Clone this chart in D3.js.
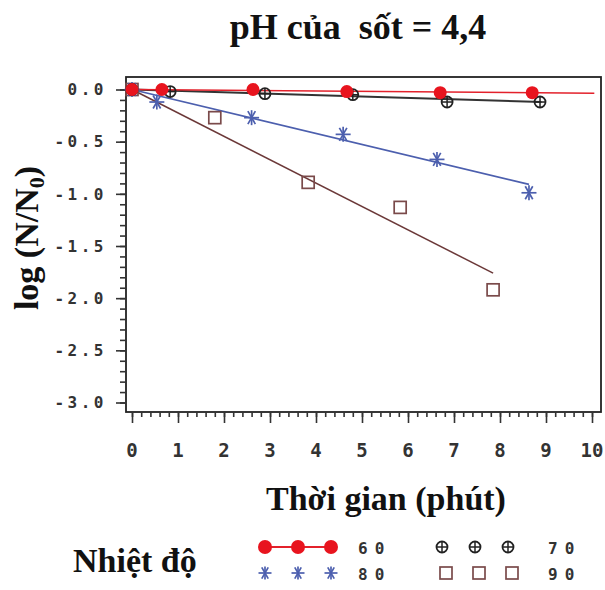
<!DOCTYPE html>
<html>
<head>
<meta charset="utf-8">
<script src="https://cdn.jsdelivr.net/npm/d3@7"></script>
<style>
  body { margin: 0; background: #fff; }
  .tick-lbl { font-family: "DejaVu Sans Mono", monospace; font-weight: bold; fill: #333; }
  .ttl { font-family: "Liberation Serif", "DejaVu Serif", serif; font-weight: bold; fill: #111; }
</style>
</head>
<body>
<div id="chart"></div>
<script>
// values
const temps = ['60', '70', '80', '90'];
const times60 = [0, 0.65, 2.63, 4.67, 6.7, 8.7];
const logs60  = [0, 0.0, 0.0, -0.02, -0.03, -0.03];
const times70 = [0, 0.83, 2.89, 4.8, 6.85, 8.87];
const logs70  = [0, -0.02, -0.04, -0.05, -0.12, -0.12];
const times80 = [0, 0.54, 2.6, 4.59, 6.63, 8.63];
const logs80  = [0, -0.12, -0.27, -0.43, -0.67, -0.99];
const times90 = [0, 1.8, 3.83, 5.83, 7.85];
const logs90  = [0, -0.27, -0.89, -1.13, -1.92];
// fitted lines, start and end as drawn
const fitX60 = [0, 10.05], fitY60 = [0, -0.035];
const fitX70 = [0, 8.9],  fitY70 = [0, -0.12];
const fitX80 = [0, 8.63], fitY80 = [0, -0.91];
const fitX90 = [0, 7.85], fitY90 = [0, -1.76];
const xTicks = [0, 1, 2, 3, 4, 5, 6, 7, 8, 9, 10];
const yTicks = [0, -0.5, -1, -1.5, -2, -2.5, -3];

const width = 605, height = 590;
const frameL = 126, frameR = 601, frameT = 77, frameB = 412;

const svg = d3.select('#chart').append('svg')
  .attr('width', width)
  .attr('height', height);

const x = d3.scaleLinear().domain([0, 10]).range([132, 592]);
const y = d3.scaleLinear().domain([0, -3]).range([89.5, 402.5]);

// frame
svg.append('rect')
  .attr('x', frameL).attr('y', frameT)
  .attr('width', frameR - frameL).attr('height', frameB - frameT)
  .attr('fill', 'none').attr('stroke', '#222').attr('stroke-width', 1.8);

function styleTicks(g) {
  g.select('.domain').remove();
  g.selectAll('line').attr('stroke', '#333').attr('stroke-width', 1.6);
}

// x axis ticks
const xMinor = d3.range(0, 50.5, 1).map(d => d / 5);
svg.append('g')
  .attr('transform', `translate(0,${frameB})`)
  .call(d3.axisBottom(x).tickValues(xMinor).tickSize(5).tickFormat(''))
  .call(styleTicks);
svg.append('g')
  .attr('transform', `translate(0,${frameB})`)
  .call(d3.axisBottom(x).tickValues(xTicks).tickSize(11).tickFormat(''))
  .call(styleTicks);
svg.append('g').selectAll('text')
  .data(xTicks)
  .enter()
  .append('text')
  .attr('class', 'tick-lbl')
  .attr('x', d => x(d))
  .attr('y', 457)
  .attr('text-anchor', 'middle')
  .attr('font-size', 19)
  .text(d => d);

// y axis ticks
const yMinor = d3.range(0, 31, 1).map(d => -d / 10);
svg.append('g')
  .attr('transform', `translate(${frameL},0)`)
  .call(d3.axisLeft(y).tickValues(yMinor).tickSize(6).tickFormat(''))
  .call(styleTicks);
svg.append('g')
  .attr('transform', `translate(${frameL},0)`)
  .call(d3.axisLeft(y).tickValues(yTicks).tickSize(10).tickFormat(''))
  .call(styleTicks);
svg.append('g').selectAll('text')
  .data(yTicks)
  .enter()
  .append('text')
  .attr('class', 'tick-lbl')
  .attr('x', 107)
  .attr('y', d => y(d))
  .attr('dy', '0.36em')
  .attr('text-anchor', 'end')
  .attr('font-size', 16)
  .attr('letter-spacing', 3.5)
  .text(d => d3.format('.1f')(d).replace('−', '-'));

// fitted lines
const line = d3.line().x(d => x(d[0])).y(d => y(d[1]));
const fits = [
  {xs: fitX70, ys: fitY70, c: '#333', w: 2},
  {xs: fitX60, ys: fitY60, c: '#e3212b', w: 1.5},
  {xs: fitX80, ys: fitY80, c: '#4c5fae', w: 1.7},
  {xs: fitX90, ys: fitY90, c: '#6b3838', w: 1.5}
];
svg.selectAll('.fit')
  .data(fits)
  .enter()
  .append('path')
  .attr('class', 'fit')
  .attr('d', d => line(d.xs.map((v, i) => [v, d.ys[i]])))
  .attr('fill', 'none')
  .attr('stroke', d => d.c)
  .attr('stroke-width', d => d.w);

// markers
function circlePlus(g, cx, cy) {
  g.append('circle').attr('cx', cx).attr('cy', cy).attr('r', 5.5)
    .attr('fill', 'none').attr('stroke', '#222').attr('stroke-width', 1.8);
  g.append('line').attr('x1', cx - 5.5).attr('x2', cx + 5.5).attr('y1', cy).attr('y2', cy)
    .attr('stroke', '#222').attr('stroke-width', 1.5);
  g.append('line').attr('x1', cx).attr('x2', cx).attr('y1', cy - 5.5).attr('y2', cy + 5.5)
    .attr('stroke', '#222').attr('stroke-width', 1.5);
}
function star(g, cx, cy, r) {
  [0, 60, 120].forEach(a => {
    const rad = a * Math.PI / 180;
    g.append('line')
      .attr('x1', cx - r * Math.cos(rad)).attr('y1', cy - r * Math.sin(rad))
      .attr('x2', cx + r * Math.cos(rad)).attr('y2', cy + r * Math.sin(rad))
      .attr('stroke', '#4c5fae').attr('stroke-width', 1.7);
  });
  g.append('line').attr('x1', cx).attr('x2', cx).attr('y1', cy - r).attr('y2', cy + r)
    .attr('stroke', '#4c5fae').attr('stroke-width', 1.7);
}
function square(g, cx, cy) {
  g.append('rect').attr('x', cx - 6).attr('y', cy - 6).attr('width', 12).attr('height', 12)
    .attr('fill', 'none').attr('stroke', '#7a4a4a').attr('stroke-width', 1.7);
}
function dot(g, cx, cy, r) {
  g.append('circle').attr('cx', cx).attr('cy', cy).attr('r', r).attr('fill', '#e8141e');
}

const pts = svg.append('g');
times90.forEach((t, i) => square(pts, x(t), y(logs90[i])));
times80.forEach((t, i) => star(pts, x(t), y(logs80[i]), 7.5));
times70.forEach((t, i) => circlePlus(pts, x(t), y(logs70[i])));
times60.forEach((t, i) => dot(pts, x(t), y(logs60[i]), 6.5));

// titles
svg.append('text').attr('class', 'ttl')
  .attr('x', 358).attr('y', 39).attr('text-anchor', 'middle')
  .attr('font-size', 36).attr('xml:space', 'preserve')
  .text('pH của  sốt = 4,4');
svg.append('text').attr('class', 'ttl')
  .attr('x', 386).attr('y', 510).attr('text-anchor', 'middle')
  .attr('font-size', 34)
  .text('Thời gian (phút)');
const yt = svg.append('text').attr('class', 'ttl')
  .attr('transform', 'translate(38,238) rotate(-90)')
  .attr('text-anchor', 'middle')
  .attr('font-size', 34);
yt.append('tspan').text('log (N/N');
yt.append('tspan').attr('font-size', 22).attr('dy', 6).text('0');
yt.append('tspan').attr('dy', -6).text(')');

// legend
svg.append('text').attr('class', 'ttl')
  .attr('x', 73).attr('y', 572)
  .attr('font-size', 34)
  .text('Nhiệt độ');

const legX = [265, 298, 331], legX2 = [442, 475, 508];
const lg = svg.append('g');
lg.append('line').attr('x1', legX[0]).attr('x2', legX[2]).attr('y1', 547).attr('y2', 547)
  .attr('stroke', '#e3212b').attr('stroke-width', 2);
legX.forEach(px => dot(lg, px, 547, 7));
legX.forEach(px => star(lg, px, 573, 6.5));
legX2.forEach(px => circlePlus(lg, px, 547));
legX2.forEach(px => square(lg, px + 4, 573));
const legLbl = [[358, 548], [548, 548], [358, 574], [548, 574]];
lg.selectAll('text')
  .data(temps)
  .enter()
  .append('text')
  .attr('class', 'tick-lbl')
  .attr('x', (d, i) => legLbl[i][0])
  .attr('y', (d, i) => legLbl[i][1])
  .attr('dy', '0.36em')
  .attr('font-size', 16)
  .attr('letter-spacing', 7)
  .text(d => d);
</script>
</body>
</html>
